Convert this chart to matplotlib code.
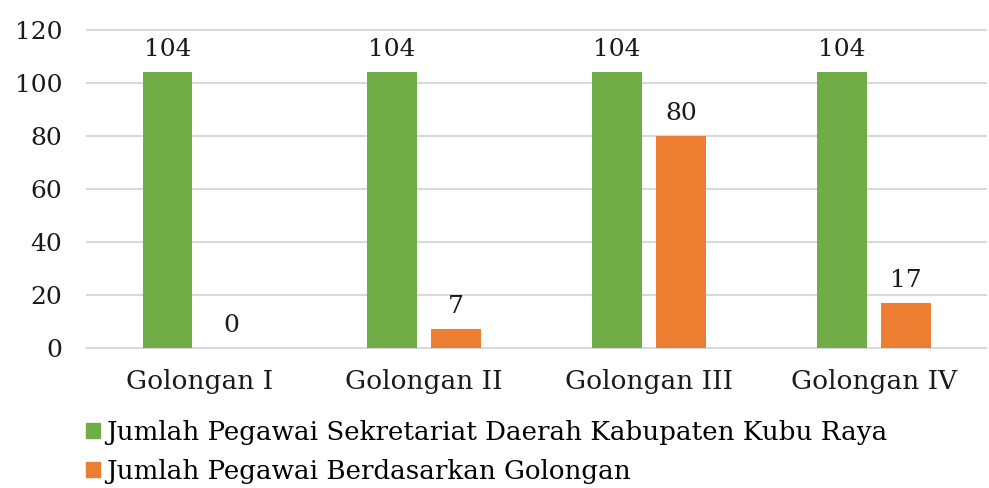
import numpy as np
import matplotlib
matplotlib.use('Agg')
import matplotlib.pyplot as plt
from matplotlib.patches import Patch

plt.rcParams['font.family'] = ['DejaVu Serif']

categories = ['Golongan I', 'Golongan II', 'Golongan III', 'Golongan IV']
total_pegawai = [104, 104, 104, 104]
per_golongan = [0, 7, 80, 17]
series_names = ['Jumlah Pegawai Sekretariat Daerah Kabupaten Kubu Raya',
                'Jumlah Pegawai Berdasarkan Golongan']
yticks = [0, 20, 40, 60, 80, 100, 120]

green = '#70AD47'
orange = '#ED7D31'
grid_col = '#D9D9D9'

fig = plt.figure(figsize=(9.89, 4.88), dpi=100)
ax = fig.add_axes([0.088, 0.287, 0.909, 0.6515])

x = np.arange(len(categories))
w = 0.222
off = 0.142
b1 = ax.bar(x - off, total_pegawai, w, color=green, zorder=3)
b2 = ax.bar(x + off, per_golongan, w, color=orange, zorder=3)

for bars, vals in ((b1, total_pegawai), (b2, per_golongan)):
    for r, v in zip(bars, vals):
        ax.annotate(str(v), (r.get_x() + r.get_width() / 2, v),
                    xytext=(0, 8), textcoords='offset points',
                    ha='center', va='bottom', fontsize=18, color='#1a1a1a')

ax.set_xlim(-0.5, len(categories) - 0.5)
ax.set_ylim(0, 120)
ax.set_yticks(yticks)
ax.set_xticks(x)
ax.set_xticklabels(categories)
ax.tick_params(axis='both', length=0, colors='#1a1a1a')
ax.tick_params(axis='y', pad=18, labelsize=18)
ax.tick_params(axis='x', pad=15, labelsize=19)
ax.yaxis.grid(True, color=grid_col, linewidth=1.5, zorder=0)
for gl in ax.get_ygridlines():
    gl.set_clip_on(False)
for s in ax.spines.values():
    s.set_visible(False)

handles = [Patch(color=green), Patch(color=orange)]
fig.legend(handles, series_names, loc='upper left', bbox_to_anchor=(0.087, 0.14),
           frameon=False, fontsize=18.8, handlelength=0.55, handleheight=0.48,
           handletextpad=0.2, labelspacing=0.55, borderaxespad=0, borderpad=0)

plt.savefig('out.png', dpi=100)
plt.close()
